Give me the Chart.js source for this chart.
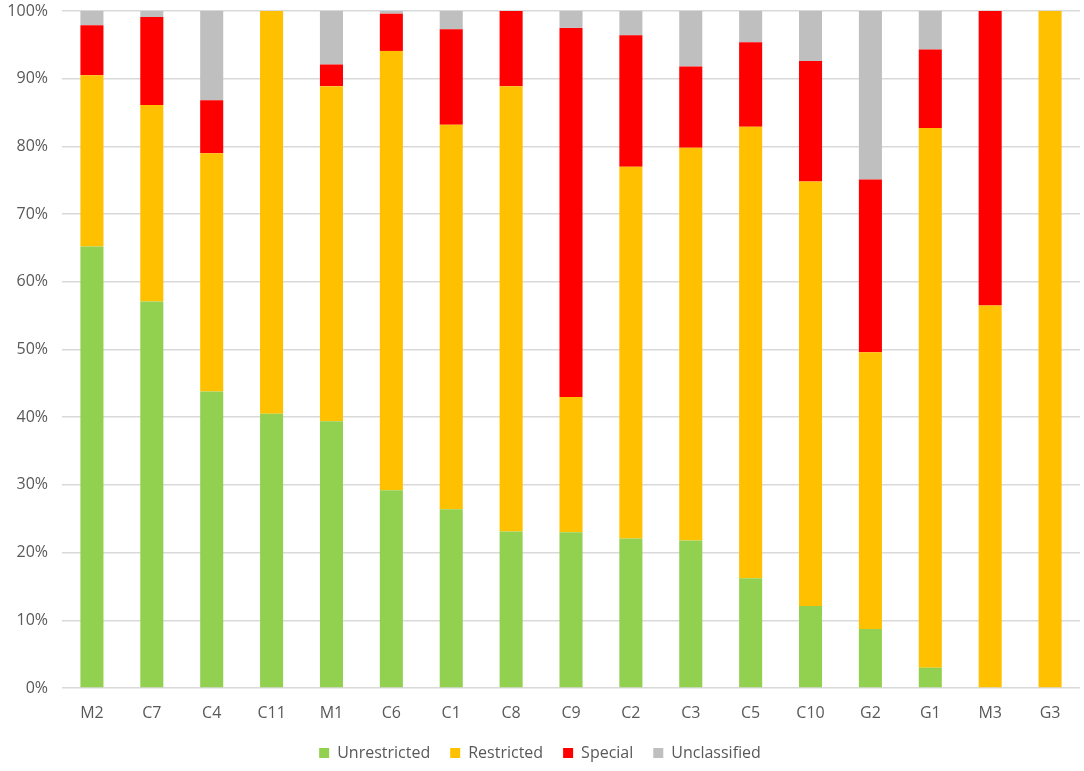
<!DOCTYPE html>
<html>
<head>
<meta charset="utf-8">
<script src="https://cdn.jsdelivr.net/npm/chart.js@4/dist/chart.umd.min.js"></script>
<style>
  html, body { margin: 0; padding: 0; background: #fff; }
  #wrap { width: 1084px; height: 771px; }
</style>
</head>
<body>
<div id="wrap"><canvas id="chart" width="1084" height="771"></canvas></div>
<script>
const categories = ['M2', 'C7', 'C4', 'C11', 'M1', 'C6', 'C1', 'C8', 'C9', 'C2', 'C3', 'C5', 'C10', 'G2', 'G1', 'M3', 'G3']

// shares in percent
const unrestricted = [65.2, 57.1, 43.8, 40.5, 39.4, 29.2, 26.4, 23.1, 23.0, 22.1, 21.8, 16.2, 12.1, 8.7, 3.0, 0, 0]
const restricted   = [25.3, 29.0, 35.2, 59.5, 49.5, 64.9, 56.8, 65.8, 20.0, 54.9, 58.0, 66.7, 62.7, 40.9, 79.7, 56.5, 100]
const special      = [7.4, 13.0, 7.8, 0, 3.2, 5.5, 14.1, 11.1, 54.5, 19.4, 12.0, 12.5, 17.8, 25.5, 11.6, 43.5, 0]
const unclassified = [2.1, 0.9, 13.2, 0, 7.9, 0.4, 2.7, 0, 2.5, 3.6, 8.2, 4.6, 7.4, 24.9, 5.7, 0, 0]

const yTicks = [0, 10, 20, 30, 40, 50, 60, 70, 80, 90, 100]

const textColor = '#595959'
const font = { family: '"Open Sans", "Noto Sans", sans-serif', size: 16 }

const series = [
  { label: 'Unrestricted', data: unrestricted, color: '#92D050' },
  { label: 'Restricted', data: restricted, color: '#FFC000' },
  { label: 'Special', data: special, color: '#FF0000' },
  { label: 'Unclassified', data: unclassified, color: '#BFBFBF' }
]

new Chart(document.getElementById('chart'), {
  type: 'bar',
  data: {
    labels: categories,
    datasets: series.map(s => ({
      label: s.label,
      data: s.data,
      backgroundColor: s.color,
      borderWidth: 0,
      barPercentage: 0.385,
      categoryPercentage: 1
    }))
  },
  options: {
    responsive: false,
    animation: false,
    layout: { padding: { top: 0, right: 4, bottom: 0, left: 0 } },
    plugins: {
      legend: {
        position: 'bottom',
        labels: {
          color: textColor,
          font,
          boxWidth: 10,
          boxHeight: 10,
          padding: 20
        }
      },
      tooltip: { enabled: false }
    },
    scales: {
      x: {
        stacked: true,
        grid: { display: false, drawTicks: false },
        border: { display: false },
        ticks: { color: textColor, font, padding: 16 },
        afterFit: (scale) => { scale.height = 37 }
      },
      y: {
        stacked: true,
        min: 0,
        max: 100,
        afterBuildTicks: (scale) => { scale.ticks = yTicks.map(v => ({ value: v })) },
        grid: { color: '#D9D9D9', lineWidth: 1.5, drawTicks: false },
        border: { display: false },
        ticks: {
          color: textColor,
          font,
          padding: 14,
          callback: (value) => value + '%'
        },
        afterFit: (scale) => {
          scale.width = 62
          scale.paddingTop = 11
          scale.paddingBottom = 0
        }
      }
    }
  }
})
</script>
</body>
</html>
